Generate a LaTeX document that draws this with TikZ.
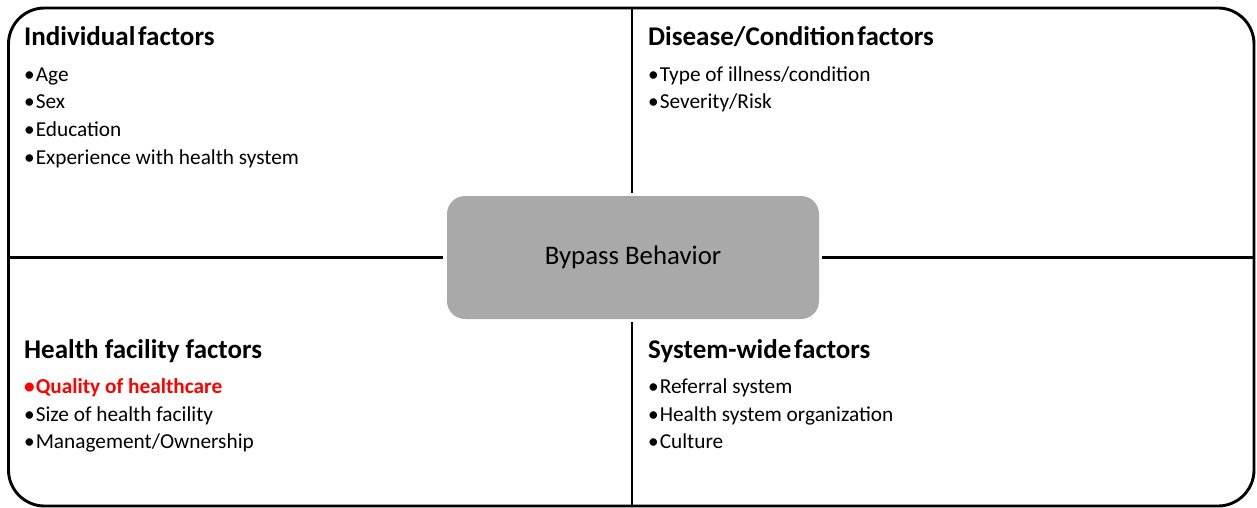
\documentclass[tikz,border=0pt]{standalone}
\usepackage{fontspec}
\setmainfont{Carlito}
\definecolor{boxgray}{HTML}{A9A9A9}
\definecolor{hired}{HTML}{FF0000}
\begin{document}
\begin{tikzpicture}[x=1pt,y=-1pt,
  title/.style={anchor=base west,inner sep=0pt,font=\fontsize{27}{30}\selectfont\bfseries},
  item/.style={anchor=base west,inner sep=0pt,font=\fontsize{21.3}{24}\selectfont},
  divider/.style={line width=2.8pt},
  centerbox/.style={fill=boxgray,draw=none,rounded corners=18pt,minimum width=372pt,minimum height=123pt,font=\fontsize{26.8}{30}\selectfont}]
\useasboundingbox (0,0) rectangle (1257,508);
\draw[line width=2.9pt,rounded corners=36pt] (8.5,8) rectangle (1254,506);
\node[centerbox] (bb) at (633,257.5) {Bypass Behavior};
\coordinate (ttop) at (632,8);
\coordinate (tbot) at (632,506);
\coordinate (tleft) at (8.5,257.5);
\coordinate (tright) at (1254,257.5);
\coordinate (vt) at (632,193);
\coordinate (vb) at (632,322);
\coordinate (hl) at (443,257.5);
\coordinate (hr) at (822,257.5);
\draw[divider] (ttop) -- (vt);
\draw[divider] (vb) -- (tbot);
\draw[divider] (tleft) -- (hl);
\draw[divider] (hr) -- (tright);
% individual
\node[title] (t1) at (24,46) {Individual\hspace{0.1em}factors};
\node[item] (a1) at (24,81.5) {\textbullet\hspace{1pt}Age};
\node[item] (a2) at (24,109) {\textbullet\hspace{1pt}Sex};
\node[item] (a3) at (24,136.5) {\textbullet\hspace{1pt}Education};
\node[item] (a4) at (24,164) {\textbullet\hspace{1pt}Experience with health system};
% disease
\node[title] (t2) at (648,46) {Disease/Condition\hspace{0.1em}factors};
\node[item] (b1) at (648,81.5) {\textbullet\hspace{1pt}Type of illness/condition};
\node[item] (b2) at (648,109) {\textbullet\hspace{1pt}Severity/Risk};
% facility
\node[title] (t3) at (24,358) {Health facility factors};
\node[item,text=hired,font=\fontsize{21.3}{24}\selectfont\bfseries] (c1) at (24,393.5) {\textbullet\hspace{1pt}Quality of healthcare};
\node[item] (c2) at (24,421) {\textbullet\hspace{1pt}Size of health facility};
\node[item] (c3) at (24,448.5) {\textbullet\hspace{1pt}Management/Ownership};
% system
\node[title] (t4) at (648,358) {System-wide\hspace{0.1em}factors};
\node[item] (d1) at (648,393.5) {\textbullet\hspace{1pt}Referral system};
\node[item] (d2) at (648,421) {\textbullet\hspace{1pt}Health system organization};
\node[item] (d3) at (648,448.5) {\textbullet\hspace{1pt}Culture};
\end{tikzpicture}
\end{document}
